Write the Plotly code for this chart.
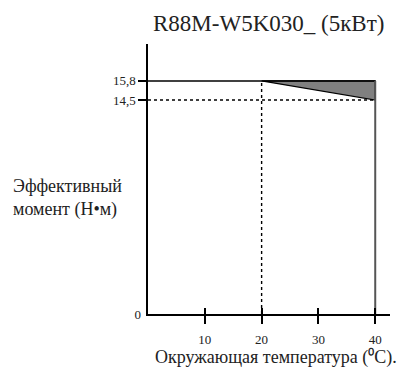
import plotly.graph_objects as go

# Data
temp_knee = 20
temp_max = 40
torque_rated = 15.8
torque_derated = 14.5
x_ticks = [10, 20, 30, 40]
y_ticks = [14.5, 15.8]
y_tick_labels = ["14,5", "15,8"]
x_range = [0, 42.6]
y_range = [0, 18.3]

title = "R88M-W5K030_ (5кВт)"
y_title = "Эффективный<br>момент (Н•м)"
x_title = "Окружающая температура (⁰C)."

FONT = "Liberation Serif, Times New Roman, serif"

fig = go.Figure()

# gray derating triangle
fig.add_trace(go.Scatter(
    x=[temp_knee, temp_max, temp_max, temp_knee],
    y=[torque_rated, torque_rated, torque_derated, torque_rated],
    fill="toself", fillcolor="#808080", mode="lines",
    line=dict(color="black", width=1.2), hoverinfo="skip", showlegend=False))

# rated torque line
fig.add_trace(go.Scatter(x=[0, temp_max], y=[torque_rated, torque_rated], mode="lines",
                         line=dict(color="black", width=1.5), showlegend=False))
# dotted 14.5 line
fig.add_trace(go.Scatter(x=[0, temp_max], y=[torque_derated, torque_derated], mode="lines",
                         line=dict(color="black", width=1.4, dash="dot"), showlegend=False))
# dotted vertical at knee
fig.add_trace(go.Scatter(x=[temp_knee, temp_knee], y=[0, torque_rated], mode="lines",
                         line=dict(color="black", width=1.4, dash="dot"), showlegend=False))
# right vertical at 40
fig.add_trace(go.Scatter(x=[temp_max, temp_max], y=[0, torque_rated], mode="lines",
                         line=dict(color="#555555", width=2), showlegend=False))
# dummy trace for secondary axes
fig.add_trace(go.Scatter(x=[None], y=[None], xaxis="x2", yaxis="y2", showlegend=False))

axis_font = dict(family=FONT, size=13, color="#222")

fig.update_layout(
    width=401, height=367,
    margin=dict(l=148, r=11, t=44, b=53),
    plot_bgcolor="white", paper_bgcolor="white",
    showlegend=False,
    xaxis=dict(range=x_range, tickvals=x_ticks, ticktext=[str(v) for v in x_ticks],
               ticks="outside", ticklen=8, tickwidth=1.5, tickcolor="black",
               showline=True, linecolor="black", linewidth=1.5,
               showgrid=False, zeroline=False, tickfont=axis_font,
               ticklabelstandoff=5),
    yaxis=dict(range=y_range, tickvals=y_ticks, ticktext=y_tick_labels,
               ticks="outside", ticklen=8, tickwidth=1.5, tickcolor="black",
               showline=True, linecolor="black", linewidth=1.5,
               showgrid=False, zeroline=False, tickfont=axis_font),
    xaxis2=dict(range=x_range, overlaying="x", tickvals=x_ticks, ticks="inside",
                ticklen=6, tickwidth=1.5, tickcolor="black", showticklabels=False,
                showgrid=False, zeroline=False, showline=False),
    yaxis2=dict(range=y_range, overlaying="y", tickvals=[0], ticktext=["0"],
                ticks="", showgrid=False, zeroline=False, showline=False,
                tickfont=axis_font, ticklabelstandoff=6),
)

# place annotations in pixel terms by converting to paper coords
pw, ph = 401 - 148 - 11, 367 - 44 - 53
def px(xp):
    return (xp - 148) / pw
def py(yp):
    return (314 - yp) / ph

fig.add_annotation(text=title, x=px(268), y=py(24), xref="paper", yref="paper",
                   xanchor="center", yanchor="middle", showarrow=False,
                   font=dict(family=FONT, size=23, color="#222"))
fig.add_annotation(text=y_title, x=px(11), y=py(198), xref="paper", yref="paper",
                   xanchor="left", yanchor="middle", showarrow=False, align="left",
                   font=dict(family=FONT, size=18, color="#222"))
fig.add_annotation(text=x_title, x=px(276), y=py(357), xref="paper", yref="paper",
                   xanchor="center", yanchor="middle", showarrow=False,
                   font=dict(family=FONT, size=18, color="#222"))

fig.write_html("out.html", config={"displayModeBar": False},
               post_script="document.body.style.margin='0';document.body.style.overflow='hidden';")
